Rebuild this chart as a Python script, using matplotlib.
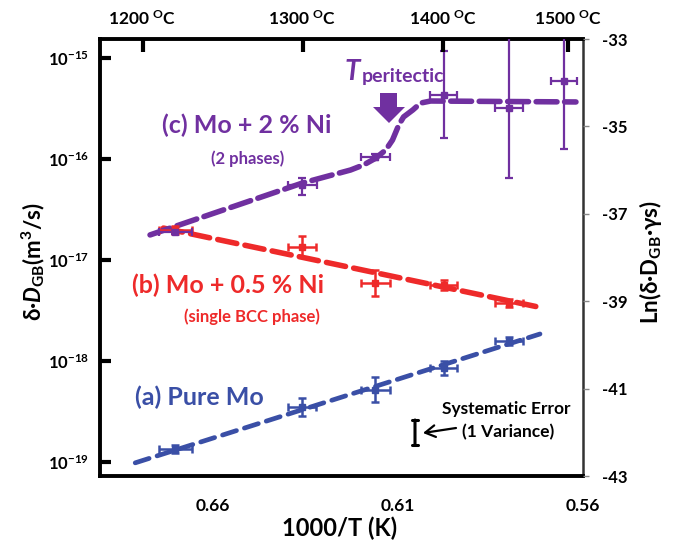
import matplotlib
matplotlib.use("Agg")
import matplotlib.pyplot as plt
from matplotlib.patches import Polygon
from matplotlib.ticker import FixedLocator, NullLocator

plt.rcParams['font.family'] = ['Lato', 'DejaVu Sans']
plt.rcParams['font.weight'] = 'bold'
plt.rcParams['axes.unicode_minus'] = False
plt.rcParams['mathtext.fontset'] = 'custom'
plt.rcParams['mathtext.rm'] = 'Lato:bold'
plt.rcParams['mathtext.it'] = 'Lato:italic:bold'
plt.rcParams['mathtext.bf'] = 'Lato:bold'
plt.rcParams['lines.scale_dashes'] = False

# ---------------- data ----------------
x5 = [0.670, 0.6357, 0.616, 0.5976, 0.580]
x5_err = [0.0045, 0.0038, 0.0038, 0.0037, 0.0037]

# (a) Pure Mo
mo_y = [1.35e-19, 3.5e-19, 5.2e-19, 8.5e-19, 1.58e-18]
mo_lo = [1.23e-19, 2.85e-19, 3.9e-19, 7.25e-19, 1.44e-18]
mo_hi = [1.48e-19, 4.3e-19, 6.9e-19, 9.95e-19, 1.73e-18]
mo_fit_x = [0.6808, 0.5716]
mo_fit_y = [9.8e-20, 1.85e-18]

# (b) Mo + 0.5 % Ni
ni05_y = [1.98e-17, 1.35e-17, 5.9e-18, 5.65e-18, 3.75e-18]
ni05_lo = [1.81e-17, 1.06e-17, 4.4e-18, 5.1e-18, 3.43e-18]
ni05_hi = [2.17e-17, 1.72e-17, 7.9e-18, 6.3e-18, 4.1e-18]
ni05_fit_x = [0.6732, 0.5722]
ni05_fit_y = [2.07e-17, 3.43e-18]

# (c) Mo + 2 % Ni
ni2_x = [0.670, 0.6357, 0.616, 0.5976, 0.580, 0.5651]
ni2_xerr = [0.0045, 0.0040, 0.0040, 0.0037, 0.0037, 0.0035]
ni2_y = [1.9e-17, 5.5e-17, 1.05e-16, 4.3e-16, 3.2e-16, 5.9e-16]
ni2_lo = [1.8e-17, 4.4e-17, 0.97e-16, 1.61e-16, 6.5e-17, 1.26e-16]
ni2_hi = [2.0e-17, 6.5e-17, 1.13e-16, 1.17e-15, 1.6e-15, 2.8e-15]
ni2_fit_x = [0.6768, 0.6357, 0.6227, 0.6192, 0.6159, 0.6132, 0.6114,
             0.6097, 0.6084, 0.6059, 0.6038, 0.6011, 0.5619]
ni2_fit_y = [1.77e-17, 5.78e-17, 7.78e-17, 8.73e-17, 1.02e-16, 1.23e-16,
             1.54e-16, 2.17e-16, 2.61e-16, 3.06e-16, 3.58e-16, 3.75e-16, 3.67e-16]

left_ticks = [1e-19, 1e-18, 1e-17, 1e-16, 1e-15]
left_labels = ['10$^{\\mathregular{-19}}$', '10$^{\\mathregular{-18}}$', '10$^{\\mathregular{-17}}$',
               '10$^{\\mathregular{-16}}$', '10$^{\\mathregular{-15}}$']
bottom_ticks = [0.66, 0.61, 0.56]
bottom_labels = ['0.66', '0.61', '0.56']
right_ticks = [-43, -41, -39, -37, -35, -33]
top_temps_c = [1200, 1300, 1400, 1500]

PURPLE = '#7030A0'
RED = '#EE2A2A'
BLUE = '#3A4FA6'

W, H = 675, 545
fig = plt.figure(figsize=(W / 100, H / 100), dpi=100)
L, R, T, B = 100, 583, 39, 476
ax = fig.add_axes([L / W, 1 - B / H, (R - L) / W, (B - T) / H])


def fp(px, py):
    return (px / W, 1 - py / H)


ax.set_yscale('log')
ax.set_xlim(0.6903, 0.56)
ax.set_ylim(7.26e-20, 1.542e-15)


def draw_series(x, xerr, y, lo, hi, color, elw, cap):
    yerr = [[yi - l for yi, l in zip(y, lo)], [h - yi for yi, h in zip(y, hi)]]
    ax.errorbar(x, y, xerr=xerr, yerr=yerr, fmt='s', ms=4.5, color=color,
                ecolor=color, elinewidth=elw, capsize=cap, capthick=elw, zorder=4)


# fit lines
ax.plot(mo_fit_x, mo_fit_y, color=BLUE, lw=3.4, dashes=(10.5, 6), zorder=3,
        dash_capstyle='round')
ax.plot(ni05_fit_x, ni05_fit_y, color=RED, lw=4.0, dashes=(14, 6), zorder=3,
        dash_capstyle='round')
ax.plot(ni2_fit_x, ni2_fit_y, color=PURPLE, lw=4.0, dashes=(15, 5.5), zorder=3,
        dash_capstyle='round')

draw_series(x5, x5_err, mo_y, mo_lo, mo_hi, BLUE, 1.8, 3.2)
draw_series(x5, x5_err, ni05_y, ni05_lo, ni05_hi, RED, 1.8, 3.2)
draw_series(ni2_x, ni2_xerr, ni2_y, ni2_lo, ni2_hi, PURPLE, 1.6, 3.2)

# axes styling
ax.yaxis.set_major_locator(FixedLocator(left_ticks))
ax.yaxis.set_minor_locator(NullLocator())
ax.set_yticklabels(left_labels)
ax.xaxis.set_major_locator(FixedLocator(bottom_ticks))
ax.set_xticklabels(bottom_labels)
ax.tick_params(axis='y', which='major', direction='in', length=8, width=3,
               labelsize=12, pad=8)
ax.tick_params(axis='x', which='major', length=0, labelsize=12.5, pad=16)
for s in ['left', 'bottom', 'top']:
    ax.spines[s].set_linewidth(2.8)
ax.spines['right'].set_linewidth(1.8)
ax.spines['right'].set_color('#333333')

# right axis
axr = ax.twinx()
axr.set_ylim(-43, -33)
axr.yaxis.set_major_locator(FixedLocator(right_ticks))
axr.set_yticklabels([str(t) for t in right_ticks])
axr.tick_params(axis='y', direction='out', length=4, width=1, color='#888888',
                labelsize=12, pad=10)
for s in axr.spines.values():
    s.set_visible(False)

# top axis (temperature)
axt = ax.twiny()
axt.set_xlim(ax.get_xlim())
axt.xaxis.set_major_locator(FixedLocator([1000.0 / (t + 273.15) for t in top_temps_c]))
axt.set_xticklabels(['%d $^{\\mathregular{O}}$C' % t for t in top_temps_c])
axt.tick_params(axis='x', direction='in', length=9, width=3, labelsize=12.5, pad=8)
for s in axt.spines.values():
    s.set_visible(False)

# axis labels
fig.text(*fp(33, 262), 'δ·$D$$_{\\mathregular{GB}}$(m$^{\\mathregular{3}}$/s)', rotation=90,
         ha='center', va='center', fontsize=16)
fig.text(*fp(650, 262), 'Ln(δ·D$_{\\mathregular{GB}}$·γs)', rotation=90,
         ha='center', va='center', fontsize=16)
fig.text(*fp(340, 528), '1000/T (K)', ha='center', va='center', fontsize=17)

# series labels
fig.text(*fp(247, 125), '(c) Mo + 2 % Ni', color=PURPLE, ha='center', va='center', fontsize=18)
fig.text(*fp(248, 159), '(2 phases)', color=PURPLE, ha='center', va='center', fontsize=12)
fig.text(*fp(228, 285), '(b) Mo + 0.5 % Ni', color=RED, ha='center', va='center', fontsize=18)
fig.text(*fp(252, 317), '(single BCC phase)', color=RED, ha='center', va='center', fontsize=12)
fig.text(*fp(199, 397), '(a) Pure Mo', color=BLUE, ha='center', va='center', fontsize=18)

# T peritectic
fig.text(*fp(345, 80), 'T', color=PURPLE, ha='left', va='baseline', fontsize=20, style='italic')
fig.text(*fp(362, 82), 'peritectic', color=PURPLE, ha='left', va='baseline', fontsize=14)
arrow_px = [(380, 93), (397, 93), (397, 107), (405, 107), (389, 123), (373, 107), (380, 107)]
fig.patches.append(Polygon([fp(*p) for p in arrow_px], closed=True, facecolor=PURPLE,
                           edgecolor='none', transform=fig.transFigure, figure=fig))

# systematic error
fig.text(*fp(506, 409), 'Systematic Error', ha='center', va='center', fontsize=12.5)
fig.text(*fp(508, 432), '(1 Variance)', ha='center', va='center', fontsize=12.5)
fig.add_artist(matplotlib.patches.FancyArrowPatch(
    fp(415, 420), fp(415, 445), arrowstyle='|-|,widthA=0.25,widthB=0.25',
    transform=fig.transFigure, lw=2.2, color='black', mutation_scale=10,
    shrinkA=0, shrinkB=0))
fig.add_artist(matplotlib.patches.FancyArrowPatch(
    fp(456, 428), fp(423, 433), arrowstyle='->,head_length=0.6,head_width=0.35',
    transform=fig.transFigure, lw=1.6, color='black', mutation_scale=12,
    shrinkA=0, shrinkB=0))

fig.savefig('out.png', dpi=100)
